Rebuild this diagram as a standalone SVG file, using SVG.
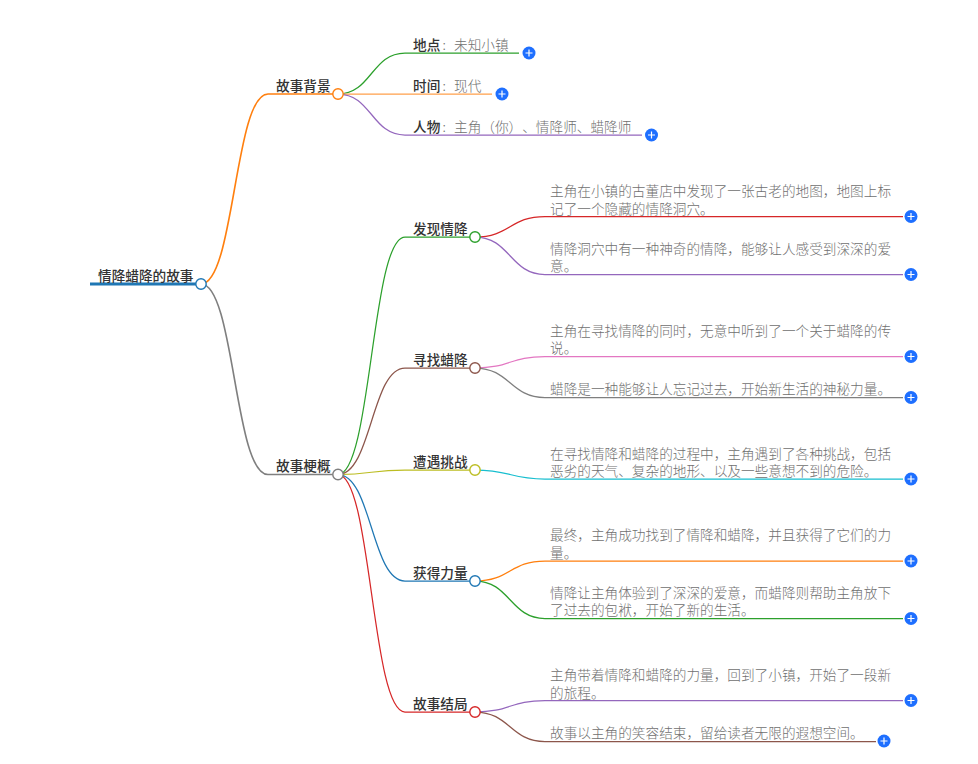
<svg xmlns="http://www.w3.org/2000/svg" width="978" height="764" viewBox="0 0 978 764">
<style>
text{font-family:"Noto Sans CJK SC","Liberation Sans",sans-serif;font-size:13.65px;text-spacing-trim:space-all}
.b{fill:#333;font-weight:500}
.g{fill:#707070;font-weight:300}
.c{fill:none;stroke-width:1.25}
.t{fill:none;stroke-width:1.6}
.k{fill:#fff;stroke-width:1.4}
.p{fill:#1e6fff}
.w{stroke:#fff;stroke-width:1.2;fill:none}
</style>
<defs>
<g id="plus"><circle class="p" r="6.5"/><path class="w" d="M-3.500 0H3.500M0-3.500V3.500"/></g>
</defs>
<g id="connectors">
<path d="M90 284H201" stroke="#1f77b4" stroke-width="3" fill="none"/>
<path class="t" stroke="#ff7f0e" d="M201 284C234.500 284 234.500 94 268 94H338"/>
<path class="t" stroke="#7f7f7f" d="M201 284C234.500 284 234.500 474.500 268 474.500H338"/>
<path class="c" stroke="#2ca02c" d="M338 94C371.500 94 371.500 53 405 53H519"/>
<path class="c" stroke="#ff9f4a" d="M338 94H492"/>
<path class="c" stroke="#9467bd" d="M338 94C371.500 94 371.500 135 405 135H642"/>
<path class="c" stroke="#2ca02c" d="M338 474.500C371.500 474.500 371.500 237 405 237H475"/>
<path class="c" stroke="#8c564b" d="M338 474.500C371.500 474.500 371.500 368 405 368H475"/>
<path class="c" stroke="#bcbd22" d="M338 474.500C371.500 474.500 371.500 470 405 470H475"/>
<path class="c" stroke="#1f77b4" d="M338 474.500C371.500 474.500 371.500 581 405 581H475"/>
<path class="c" stroke="#d62728" d="M338 474.500C371.500 474.500 371.500 712 405 712H475"/>
<path class="c" stroke="#d62728" d="M475 237C510 237 510 216.500 545 216.500H903"/>
<path class="c" stroke="#9467bd" d="M475 237C510 237 510 274.500 545 274.500H903"/>
<path class="c" stroke="#e377c2" d="M475 368C510 368 510 356.500 545 356.500H903"/>
<path class="c" stroke="#7f7f7f" d="M475 368C510 368 510 397.500 545 397.500H903"/>
<path class="c" stroke="#17becf" d="M475 470C510 470 510 479 545 479H903"/>
<path class="c" stroke="#ff7f0e" d="M475 581C510 581 510 561 545 561H903"/>
<path class="c" stroke="#2ca02c" d="M475 581C510 581 510 618.500 545 618.500H903"/>
<path class="c" stroke="#9467bd" d="M475 712C510 712 510 700.500 545 700.500H903"/>
<path class="c" stroke="#8c564b" d="M475 712C510 712 510 741.500 545 741.500H876"/>
</g>
<g id="root"><text class="b" x="98" y="281">情降蜡降的故事</text><circle class="k" cx="201" cy="284" r="5.200" stroke="#1f77b4"/></g>
<g id="n1"><text class="b" x="276" y="91">故事背景</text><circle class="k" cx="338" cy="94" r="5.200" stroke="#ff7f0e"/></g>
<g id="n1-1"><text x="413" y="50"><tspan class="b">地点</tspan><tspan class="g" x="442.500">:</tspan><tspan class="g" x="454">未知小镇</tspan></text><use href="#plus" x="529" y="53"/></g>
<g id="n1-2"><text x="413" y="91"><tspan class="b">时间</tspan><tspan class="g" x="442.500">:</tspan><tspan class="g" x="454">现代</tspan></text><use href="#plus" x="502" y="94"/></g>
<g id="n1-3"><text x="413" y="132"><tspan class="b">人物</tspan><tspan class="g" x="442.500">:</tspan><tspan class="g" x="454">主角（你）、情降师、蜡降师</tspan></text><use href="#plus" x="651.500" y="135"/></g>
<g id="n2"><text class="b" x="276" y="471">故事梗概</text><circle class="k" cx="338" cy="474.500" r="5.200" stroke="#7f7f7f"/></g>
<g id="n21"><text class="b" x="413" y="234">发现情降</text><circle class="k" cx="475" cy="237" r="5.200" stroke="#2ca02c"/></g>
<g id="n211"><text class="g" x="550" y="196">主角在小镇的古董店中发现了一张古老的地图，地图上标</text><text class="g" x="550" y="214">记了一个隐藏的情降洞穴。</text><use href="#plus" x="911" y="216.500"/></g>
<g id="n212"><text class="g" x="550" y="254">情降洞穴中有一种神奇的情降，能够让人感受到深深的爱</text><text class="g" x="550" y="271">意。</text><use href="#plus" x="911" y="274.500"/></g>
<g id="n22"><text class="b" x="413" y="365">寻找蜡降</text><circle class="k" cx="475" cy="368" r="5.200" stroke="#8c564b"/></g>
<g id="n221"><text class="g" x="550" y="336">主角在寻找情降的同时，无意中听到了一个关于蜡降的传</text><text class="g" x="550" y="353">说。</text><use href="#plus" x="911" y="356.500"/></g>
<g id="n222"><text class="g" x="550" y="394">蜡降是一种能够让人忘记过去，开始新生活的神秘力量。</text><use href="#plus" x="911" y="397.500"/></g>
<g id="n23"><text class="b" x="413" y="467">遭遇挑战</text><circle class="k" cx="475" cy="470" r="5.200" stroke="#bcbd22"/></g>
<g id="n231"><text class="g" x="550" y="459">在寻找情降和蜡降的过程中，主角遇到了各种挑战，包括</text><text class="g" x="550" y="476">恶劣的天气、复杂的地形、以及一些意想不到的危险。</text><use href="#plus" x="911" y="479"/></g>
<g id="n24"><text class="b" x="413" y="578">获得力量</text><circle class="k" cx="475" cy="581" r="5.200" stroke="#1f77b4"/></g>
<g id="n241"><text class="g" x="550" y="540">最终，主角成功找到了情降和蜡降，并且获得了它们的力</text><text class="g" x="550" y="558">量。</text><use href="#plus" x="911" y="561"/></g>
<g id="n242"><text class="g" x="550" y="598">情降让主角体验到了深深的爱意，而蜡降则帮助主角放下</text><text class="g" x="550" y="615">了过去的包袱，开始了新的生活。</text><use href="#plus" x="911" y="618.500"/></g>
<g id="n25"><text class="b" x="413" y="709">故事结局</text><circle class="k" cx="475" cy="712" r="5.200" stroke="#d62728"/></g>
<g id="n251"><text class="g" x="550" y="680">主角带着情降和蜡降的力量，回到了小镇，开始了一段新</text><text class="g" x="550" y="698">的旅程。</text><use href="#plus" x="911" y="700.500"/></g>
<g id="n252"><text class="g" x="550" y="738">故事以主角的笑容结束，留给读者无限的遐想空间。</text><use href="#plus" x="884" y="741"/></g>
</svg>
